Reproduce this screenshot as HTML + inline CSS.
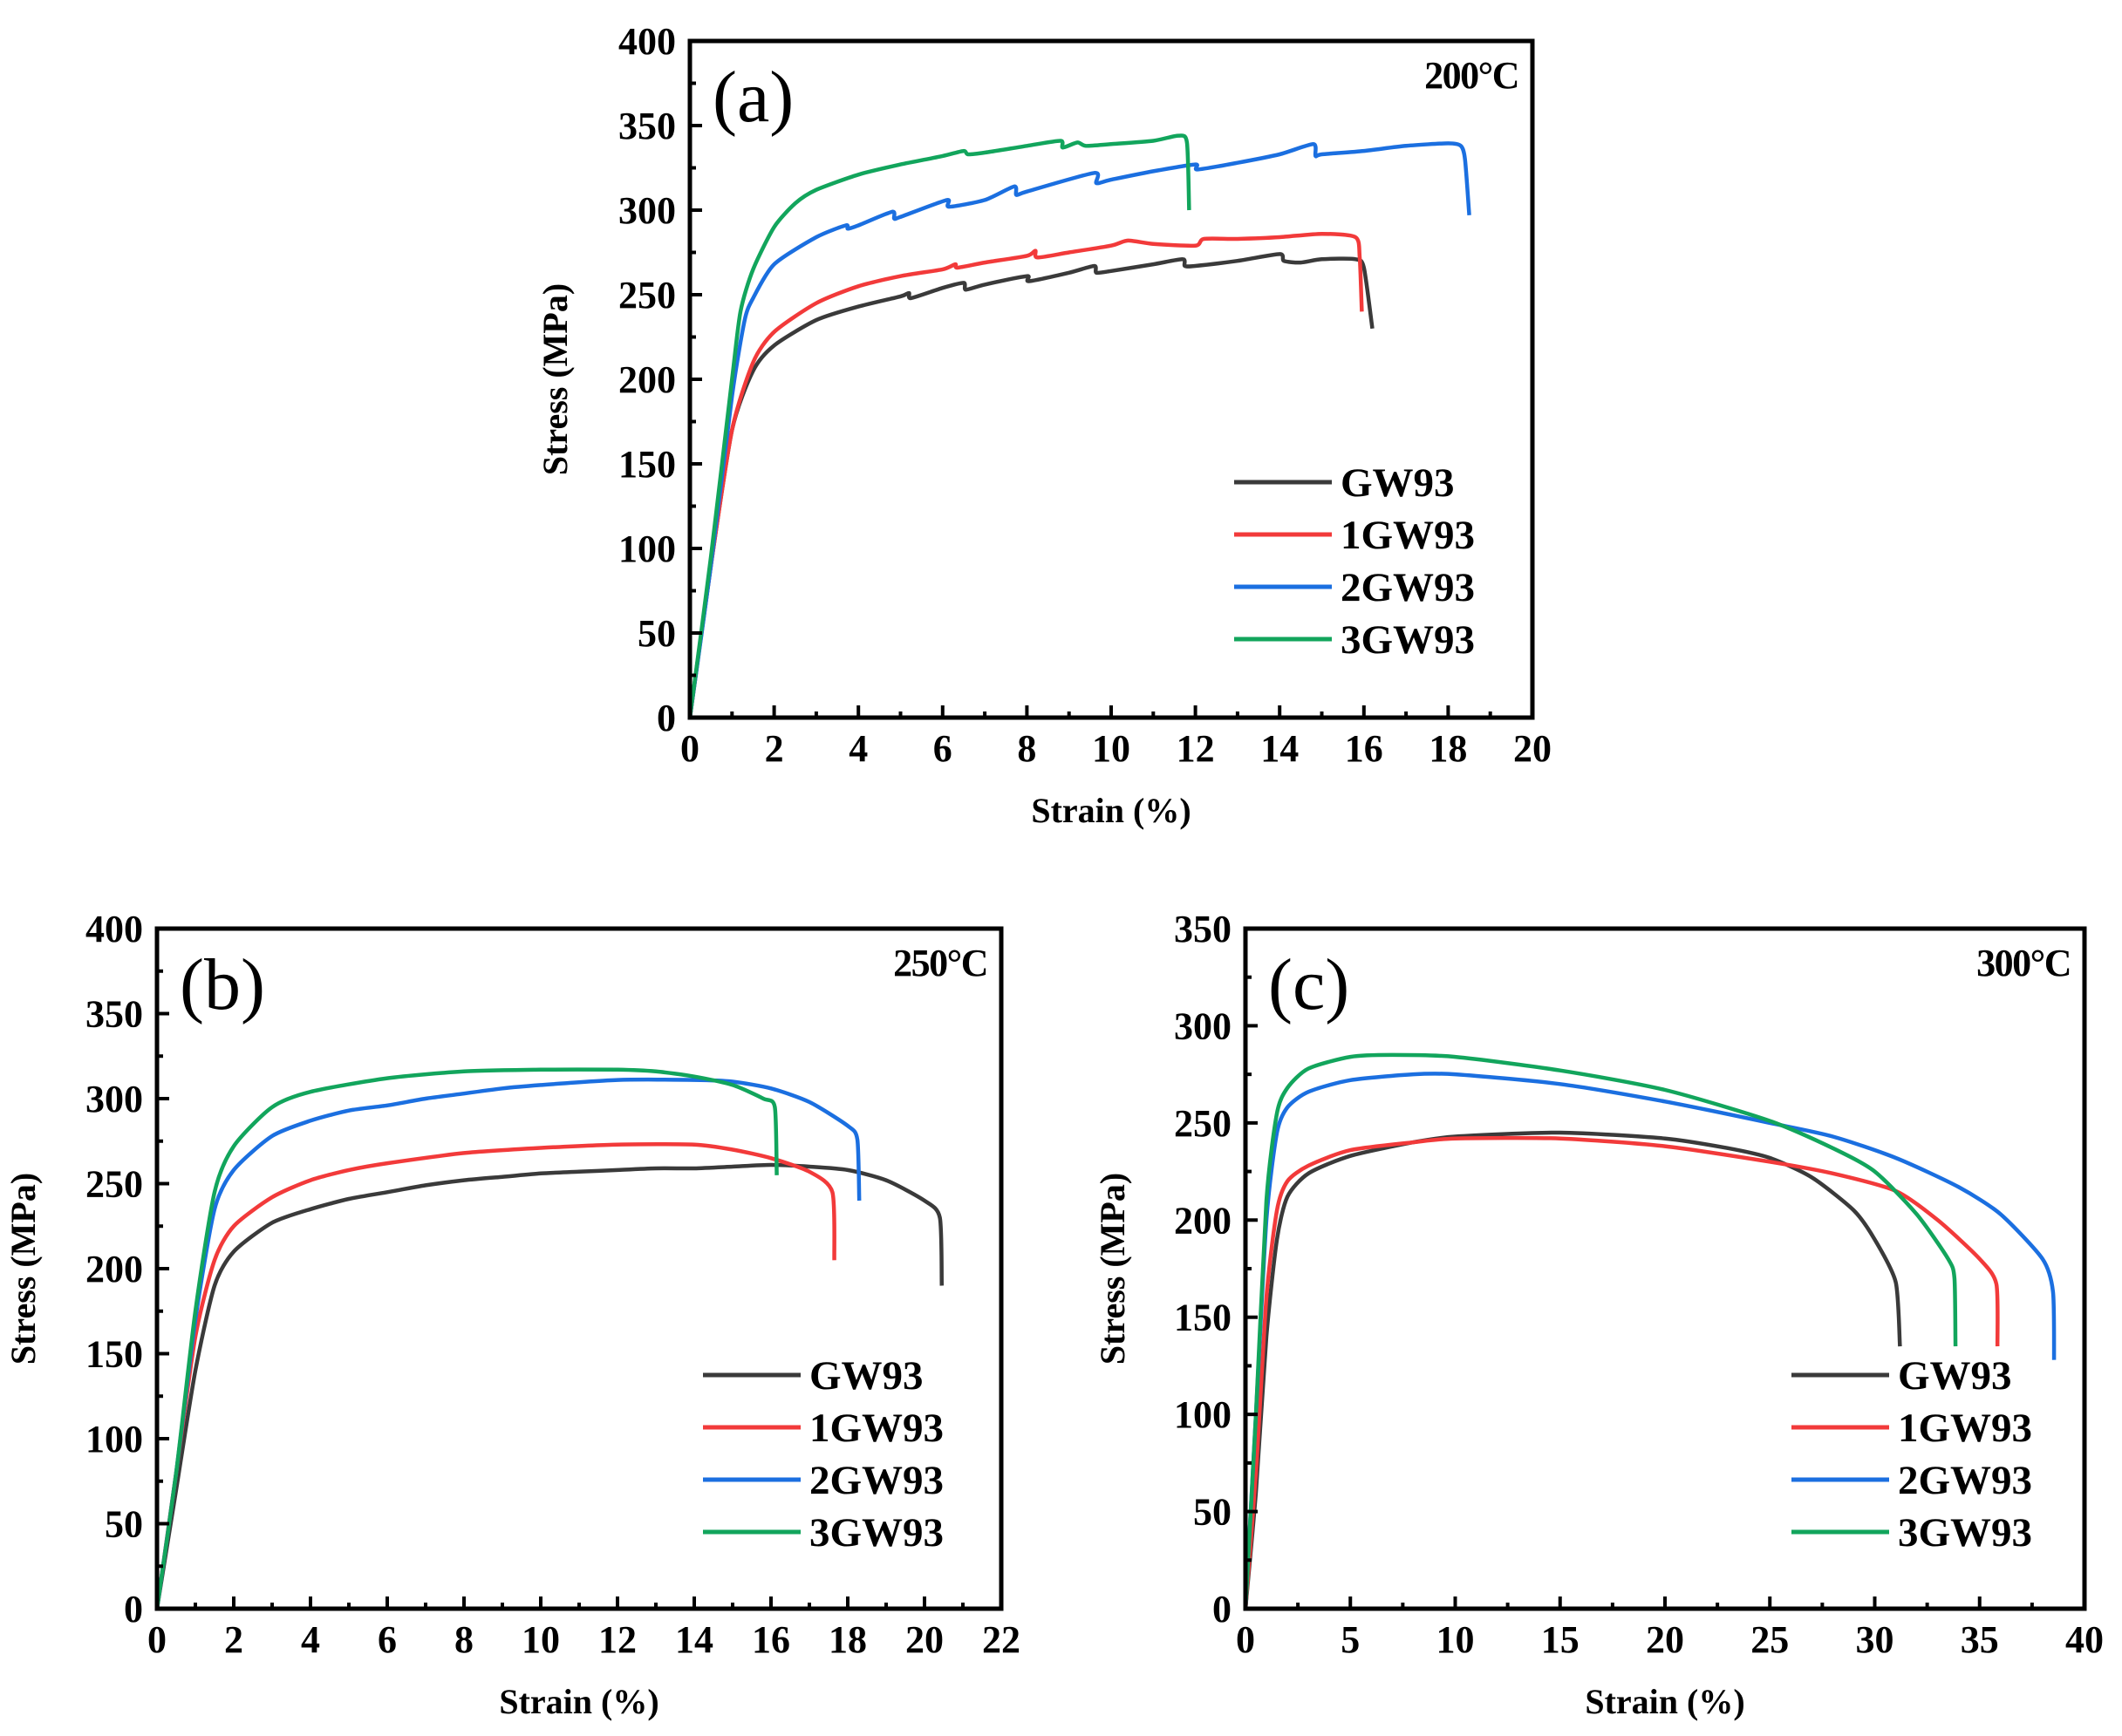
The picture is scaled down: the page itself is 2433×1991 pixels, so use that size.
<!DOCTYPE html>
<html><head><meta charset="utf-8"><style>
html,body{margin:0;padding:0;background:#fff}
svg{display:block}
text{font-family:"Liberation Serif","Times New Roman",serif}
</style></head><body>
<svg id="fig" width="2433" height="1991" viewBox="0 0 2433 1991" xmlns="http://www.w3.org/2000/svg" font-family="Liberation Serif, serif"></svg>
<script>
const seriesNames = ["GW93","1GW93","2GW93","3GW93"];
const seriesColors = ["#3a3a3a","#f23a3a","#1b6fe0","#12a55c"];

// Panel (a) 200°C
const aGW93 = [[0,0],[0.5,90],[1,170],[1.5,205],[2,220],[3,235],[4,243],[5,249],[5.2,251],[5.25,248],[6,254],[6.5,257],[6.55,253],[7,256],[8,261],[8.05,258],[9,263],[9.6,267],[9.65,263],[10,264],[11,268],[11.7,271],[11.75,267],[12,267],[13,270],[14,274],[14.1,270],[14.5,269],[15,271],[15.8,271],[16.0,266],[16.2,230]];
const a1GW93 = [[0,0],[0.5,90],[1,170],[1.5,210],[2,228],[3,245],[4,255],[5,261],[6,265],[6.3,268],[6.35,266],[7,269],[8,273],[8.2,276],[8.25,272],[9,275],[10,279],[10.4,282],[11,280],[12,279],[12.2,283],[13,283],[14,284],[15,286],[15.8,284],[15.9,272],[15.95,240]];
const a2GW93 = [[0,0],[0.5,90],[1,190],[1.3,235],[1.5,248],[2,268],[3,284],[3.7,291],[3.75,289],[4,291],[4.8,299],[4.85,295],[5,296],[6.1,306],[6.15,302],[7,306],[7.7,314],[7.75,309],[8,311],[9.6,322],[9.65,316],[10,318],[11,323],[12,327],[12.05,324],[13,328],[14,333],[14.8,339],[14.85,332],[15,333],[16,335],[17,338],[18,339.5],[18.3,338],[18.4,330],[18.5,297]];
const a3GW93 = [[0,0],[0.5,95],[1,200],[1.2,240],[1.5,265],[2,290],[2.5,304],[3,312],[4,321],[5,327],[6,332],[6.5,335],[6.6,333],[7,334],[8,338],[8.8,341],[8.85,337],[9.2,340],[9.4,338],[10,339],[11,341],[11.6,344],[11.8,340],[11.85,300]];

// Panel (b) 250°C
const bGW93 = [[0,0],[0.5,70],[1,140],[1.5,190],[2,210],[3,227],[4,235],[5,241],[6,245],[7,249],[8,252],[9,254],[10,256],[11,257],[12,258],[13,259],[14,259],[15,260],[16,261],[17,260],[18,258],[19,252],[20,240],[20.4,230],[20.45,190]];
const b1GW93 = [[0,0],[0.5,80],[1,160],[1.5,205],[2,225],[3,242],[4,252],[5,258],[6,262],[8,268],[10,271],[12,273],[14,273],[15,270],[16,265],[17,257],[17.6,245],[17.65,205]];
const b2GW93 = [[0,0],[0.5,80],[1,170],[1.5,235],[2,258],[3,278],[4,287],[5,293],[6,296],[7,300],[8,303],[9,306],[10,308],[12,311],[14,311],[15,310],[16,306],[17,298],[18,284],[18.25,276],[18.3,240]];
const b3GW93 = [[0,0],[0.5,80],[1,175],[1.5,245],[2,272],[3,295],[4,304],[6,312],[8,316],[10,317],[12,317],[13,316],[14,313],[15,308],[15.8,300],[16.1,295],[16.15,255]];

// Panel (c) 300°C
const cGW93 = [[0,0],[0.5,60],[1,140],[1.5,190],[2,212],[3,224],[5,233],[8,240],[10,243],[15,245],[20,242],[23,237],[25,232],[27,222],[29,205],[30,190],[31,168],[31.2,135]];
const c1GW93 = [[0,0],[0.5,70],[1,160],[1.5,205],[2,220],[3,228],[5,236],[8,240],[10,242],[15,242],[20,238],[25,230],[28,224],[31,215],[33,200],[35,180],[35.8,167],[35.85,135]];
const c2GW93 = [[0,0],[0.5,100],[1,200],[1.5,245],[2,258],[3,266],[5,272],[8,275],[10,275],[15,270],[20,261],[25,250],[28,243],[31,232],[34,217],[36,203],[38,180],[38.5,163],[38.55,128]];
const c3GW93 = [[0,0],[0.5,100],[1,210],[1.5,255],[2,268],[3,278],[5,284],[7,285],[10,284],[15,277],[20,267],[25,251],[28,237],[30,225],[32,203],[33.5,180],[33.8,170],[33.85,135]];

const aXTicks = [0,2,4,6,8,10,12,14,16,18,20];
const aYTicks = [0,50,100,150,200,250,300,350,400];
const bXTicks = [0,2,4,6,8,10,12,14,16,18,20,22];
const bYTicks = [0,50,100,150,200,250,300,350,400];
const cXTicks = [0,5,10,15,20,25,30,35,40];
const cYTicks = [0,50,100,150,200,250,300,350];

const NS = "http://www.w3.org/2000/svg";
const svg = document.getElementById("fig");
function mk(tag, attrs, parent){
  const e = document.createElementNS(NS, tag);
  for (const k in attrs) e.setAttribute(k, attrs[k]);
  (parent||svg).appendChild(e);
  return e;
}
function smoothPath(pts){
  let d = "M" + pts[0][0].toFixed(1) + " " + pts[0][1].toFixed(1);
  const t = 0.12;
  for (let i = 0; i < pts.length - 1; i++){
    const p0 = pts[Math.max(0, i-1)], p1 = pts[i], p2 = pts[i+1], p3 = pts[Math.min(pts.length-1, i+2)];
    const c1x = p1[0] + (p2[0]-p0[0])*t, c1y = p1[1] + (p2[1]-p0[1])*t;
    const c2x = p2[0] - (p3[0]-p1[0])*t, c2y = p2[1] - (p3[1]-p1[1])*t;
    d += " C" + c1x.toFixed(1) + " " + c1y.toFixed(1) + " " + c2x.toFixed(1) + " " + c2y.toFixed(1) + " " + p2[0].toFixed(1) + " " + p2[1].toFixed(1);
  }
  return d;
}

function panel(id, box, xMax, yMax, xTicks, yTicks, series, label, temp, legend, ytitleX){
  const g = mk("g", {});
  
  
  const L=box[0], R=box[1], T=box[2], B=box[3];
  const sx = v => L + (v / xMax) * (R - L);
  const sy = v => B - (v / yMax) * (B - T);
  series.forEach((s, i) => {
    const pts = s.map(p => [sx(p[0]), sy(p[1])]);
    const path = mk("path", {d: smoothPath(pts), fill: "none", stroke: seriesColors[i], "stroke-width": 4.5, "stroke-linejoin": "round"}, g);
    
    
  });
  const fr = mk("rect", {x: L, y: T, width: R - L, height: B - T, fill: "none", stroke: "#000", "stroke-width": 5}, g);
  
  
  const xstep = xTicks[1] - xTicks[0];
  xTicks.forEach((t, i) => {
    mk("line", {x1: sx(t), x2: sx(t), y1: B, y2: B - 14, stroke: "#000", "stroke-width": 4}, g);
    if (i < xTicks.length - 1) {
      const m = t + xstep / 2;
      mk("line", {x1: sx(m), x2: sx(m), y1: B, y2: B - 7, stroke: "#000", "stroke-width": 4}, g);
    }
    const tx = mk("text", {x: sx(t), y: B + 50, "text-anchor": "middle", "font-size": 44, "font-weight": "bold"}, g);
    tx.textContent = t;
    
    
  });
  const ystep = yTicks[1] - yTicks[0];
  yTicks.forEach((t, i) => {
    mk("line", {x1: L, x2: L + 14, y1: sy(t), y2: sy(t), stroke: "#000", "stroke-width": 4}, g);
    if (i < yTicks.length - 1) {
      const m = t + ystep / 2;
      mk("line", {x1: L, x2: L + 7, y1: sy(m), y2: sy(m), stroke: "#000", "stroke-width": 4}, g);
    }
    const ty = mk("text", {x: L - 16, y: sy(t) + 15, "text-anchor": "end", "font-size": 44, "font-weight": "bold"}, g);
    ty.textContent = t;
    
    
  });
  const xt = mk("text", {x: (L + R) / 2, y: B + 120, "text-anchor": "middle", "font-size": 40, "font-weight": "bold"}, g);
  xt.textContent = "Strain (%)";
  
  
  const cy = (T + B) / 2;
  const yt = mk("text", {x: ytitleX, y: cy, "text-anchor": "middle", "font-size": 40, "font-weight": "bold", transform: "rotate(-90 " + ytitleX + " " + cy + ")"}, g);
  yt.textContent = "Stress (MPa)";
  
  
  const pl = mk("text", {x: L + 26, y: T + 92, "font-size": 84}, g);
  pl.textContent = label;
  
  
  const tp = mk("text", {x: R - 16, y: T + 54, "text-anchor": "end", "font-size": 44, "font-weight": "bold", "letter-spacing": "-1.5"}, g);
  tp.textContent = temp;
  
  
  seriesNames.forEach((n, i) => {
    const y = legend[1] + i * 60;
    const ln = mk("line", {x1: legend[0], x2: legend[0] + 112, y1: y, y2: y, stroke: seriesColors[i], "stroke-width": 5}, g);
    
    
    const lt = mk("text", {x: legend[0] + 122, y: y + 16, "font-size": 47, "font-weight": "bold"}, g);
    lt.textContent = n;
    
    
  });
}

panel("a", [791, 1757, 47, 823], 20, 400, aXTicks, aYTicks, [aGW93, a1GW93, a2GW93, a3GW93], "(a)", "200°C", [1415, 553], 650);
panel("b", [180, 1148, 1065, 1845], 22, 400, bXTicks, bYTicks, [bGW93, b1GW93, b2GW93, b3GW93], "(b)", "250°C", [806, 1577], 40);
panel("c", [1428, 2390, 1065, 1845], 40, 350, cXTicks, cYTicks, [cGW93, c1GW93, c2GW93, c3GW93], "(c)", "300°C", [2054, 1577], 1289);
</script>
</body></html>
